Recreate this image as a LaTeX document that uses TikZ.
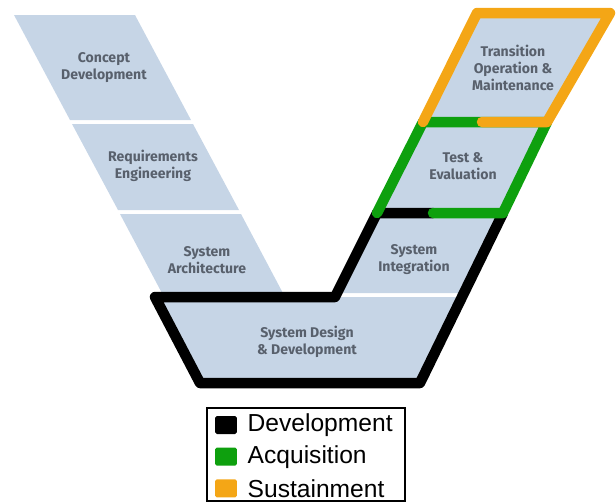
\documentclass[tikz,border=0pt]{standalone}
\usepackage{fontspec}
\usetikzlibrary{positioning}
\newfontfamily\labelfont{Fira Sans}
\newfontfamily\keyfont{Liberation Sans}
\definecolor{vfill}{RGB}{198,213,230}
\definecolor{vtext}{RGB}{88,96,108}
\definecolor{acqgreen}{RGB}{14,160,14}
\definecolor{susorange}{RGB}{244,166,22}
\tikzset{
  phase/.style={fill=vfill},
  phaselabel/.style={font=\labelfont\bfseries\fontsize{8}{9.7}\selectfont, text=vtext, align=center, inner sep=0pt},
  outline/.style={line width=0.21cm, line join=round, line cap=round},
  keysquare/.style={minimum width=0.44cm, minimum height=0.36cm, inner sep=0pt, rounded corners=1pt},
  keylabel/.style={font=\keyfont\fontsize{14}{16}\selectfont, inner sep=0pt, anchor=west}
}
\begin{document}
\begin{tikzpicture}[x=0.02cm, y=-0.02cm]
      % frame of the picture, in pixels
      \useasboundingbox (0,0) rectangle (616,501);

      % left arm of the V
      \fill[phase] (14,15) -- (135,15) -- (191,120) -- (70,120) -- cycle;
      \fill[phase] (72,124) -- (193,124) -- (239,210) -- (118,210) -- cycle;
      \fill[phase] (120,214) -- (241,214) -- (285,297) -- (164,297) -- cycle;

      % bottom and right arm
      \fill[phase] (155,297) -- (462,297) -- (420,383) -- (200,383) -- cycle;
      \fill[phase] (377,213) -- (503,213) -- (464,293) -- (337,293) -- cycle;
      \fill[phase] (423,122) -- (547,122) -- (503,213) -- (377,213) -- cycle;
      \fill[phase] (477,13) -- (610,13) -- (547,122) -- (423,122) -- cycle;

      % labels
      \node[phaselabel] (concept) at (104,68) {Concept\\Development};
      \node[phaselabel] (reqs) at (153,166) {Requirements\\Engineering};
      \node[phaselabel] (arch) at (207,260) {System\\Architecture};
      \node[phaselabel] (design) at (307,342) {System Design\\\& Development};
      \node[phaselabel] (integ) at (414,260) {System\\Integration};
      \node[phaselabel] (test) at (463,166) {Test \&\\Evaluation};
      \node[phaselabel] (transition) at (513,68) {Transition\\Operation \&\\Maintenance};

      % development outline
      \draw[outline, black] (433,213) -- (377,213) -- (335,297) -- (155,297) -- (200,383) -- (420,383) -- (503,213);
      % acquisition outline
      \draw[outline, acqgreen] (433,213) -- (503,213) -- (547,122) -- (423,122) -- (377,213);
      % sustainment outline
      \draw[outline, susorange] (482,122) -- (547,122) -- (610,13) -- (477,13) -- (423,122);

      % legend
      \draw[line width=1.6pt] (207,408) rectangle (405,501);
      \node[keysquare, fill=black] (devkey) at (226,425) {};
      \node[keysquare, fill=acqgreen, below=0.26cm of devkey] (acqkey) {};
      \node[keysquare, fill=susorange, below=0.26cm of acqkey] (suskey) {};
      \node[keylabel, right=0.2cm of devkey] (devtext) {Development};
      \node[keylabel, right=0.2cm of acqkey] (acqtext) {Acquisition};
      \node[keylabel, right=0.2cm of suskey] (sustext) {Sustainment};
    \end{tikzpicture}
\end{document}
